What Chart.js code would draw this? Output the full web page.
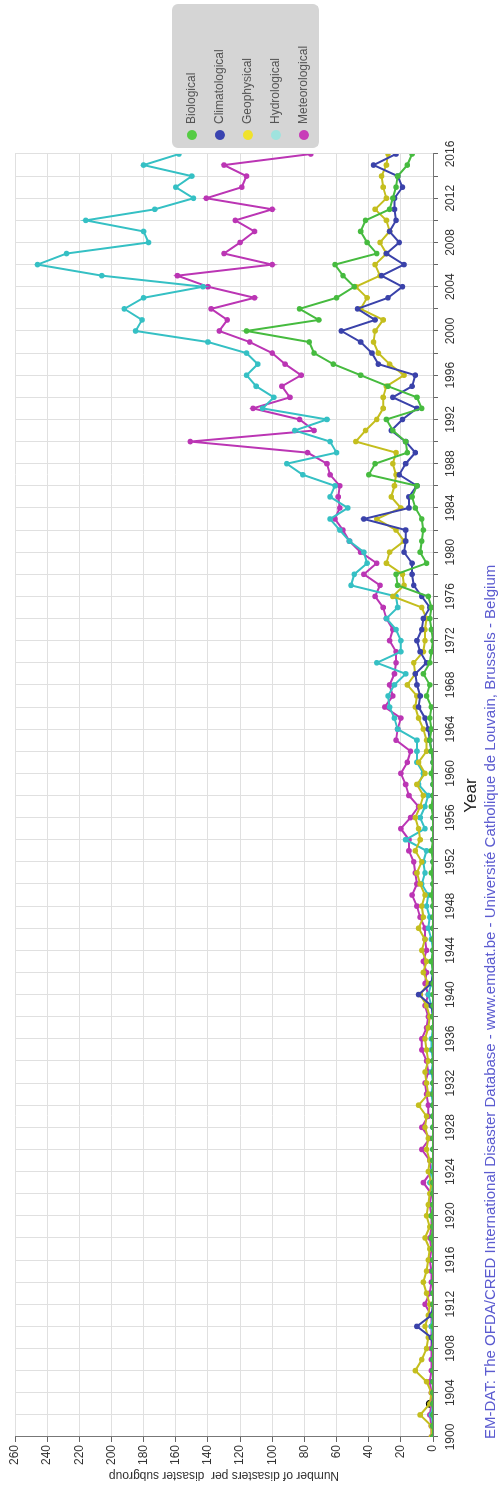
<!DOCTYPE html>
<html>
<head>
<meta charset="utf-8">
<script src="https://cdn.jsdelivr.net/npm/chart.js@4.4.1/dist/chart.umd.min.js"></script>
<style>
  html, body { margin: 0; padding: 0; background: #fff; overflow: hidden; }
  #page { width: 499px; height: 1490px; position: relative; overflow: hidden; }
  /* chart is drawn landscape, then turned a quarter left like the scan */
  #wrap { position: absolute; left: 0; top: 0; width: 1490px; height: 499px;
          transform-origin: 0 0; transform: translateY(1490px) rotate(-90deg); }
</style>
</head>
<body>
<div id="page"><div id="wrap"><canvas id="c" width="1490" height="499"></canvas></div></div>
<script>
const years = Array.from({ length: 117 }, (_, i) => 1900 + i)

const biological = [
  0,0,0,0,0,0,0,0,0,0,
  0,0,0,0,0,0,0,0,1,0,
  1,0,0,0,0,0,0,0,0,0,
  0,0,0,0,0,0,0,0,0,0,
  0,0,0,1,0,0,0,0,0,1,
  0,1,0,1,0,0,0,1,0,0,
  1,0,1,2,1,2,1,4,2,6,
  2,1,0,1,2,1,3,22,23,4,
  8,7,6,7,11,13,10,40,36,16,
  17,25,29,7,10,28,45,62,74,77,
  116,71,83,60,49,56,61,35,41,45,
  42,27,25,23,22,16,13
]
const climatological = [
  0,0,0,0,0,0,0,0,0,1,
  10,1,0,0,0,0,0,0,0,0,
  0,0,0,0,0,0,0,0,0,0,
  0,0,0,0,0,0,0,0,0,1,
  9,1,0,0,0,0,0,0,0,0,
  0,0,0,0,0,0,0,0,0,0,
  0,0,1,2,3,5,9,8,10,11,
  4,8,10,7,6,2,7,12,13,13,
  18,17,17,43,15,15,10,21,17,11,
  17,26,19,10,25,13,11,34,38,45,
  57,36,47,28,19,32,18,29,21,27,
  23,24,24,19,22,37,23
]
const geophysical = [
  1,1,8,2,1,4,11,7,4,3,
  5,3,2,4,6,4,3,2,5,2,
  4,3,2,1,3,2,4,3,5,4,
  9,3,4,5,3,4,5,3,2,4,
  8,3,6,4,7,5,9,6,7,5,
  8,10,7,11,8,9,11,8,6,10,
  5,9,4,4,6,9,11,10,16,11,
  12,6,5,5,4,7,25,18,19,29,
  27,18,23,35,20,26,24,23,25,23,
  48,42,35,31,31,29,18,27,34,37,
  36,31,45,41,48,33,36,29,33,27,
  29,36,29,31,32,29,28
]
const hydrological = [
  0,0,1,0,0,0,0,0,0,0,
  1,0,0,0,0,0,0,0,0,0,
  0,0,0,2,1,0,0,0,0,0,
  0,1,0,1,0,1,1,0,0,1,
  3,1,0,1,0,1,3,2,4,3,
  7,5,6,4,17,5,8,5,3,9,
  6,10,10,10,22,24,27,28,24,17,
  35,20,20,23,29,22,23,51,49,41,
  43,52,58,64,53,64,61,81,91,60,
  64,86,66,106,99,110,116,109,116,140,
  185,181,192,180,143,206,246,228,177,180,
  216,173,149,160,150,180,158
]
const meteorological = [
  1,1,2,1,1,2,1,1,1,1,
  1,1,5,2,1,1,2,1,2,1,
  1,2,1,6,1,2,7,2,7,3,
  3,4,5,3,4,7,7,4,3,5,
  3,5,4,6,4,5,5,8,10,13,
  10,11,12,15,15,20,14,9,15,17,
  20,16,14,23,22,20,30,25,27,24,
  23,23,27,25,29,31,36,33,43,35,
  45,52,56,61,58,59,58,64,66,78,
  151,74,83,112,89,94,82,92,100,114,
  133,128,138,111,140,159,100,130,120,111,
  123,100,141,119,116,130,76
]
// lone black marker near the origin
const otherYears = [1903]
const otherValues = [2]

const seriesNames = ['Biological', 'Climatological', 'Geophysical', 'Hydrological', 'Meteorological']
const seriesColors = ['#46bb3f', '#3a42aa', '#c4be1e', '#35c0c4', '#bb35b4']
const legendColors = ['#55cc44', '#3a44b0', '#f0e22c', '#9fe3de', '#c83cb8']
const credit = 'EM-DAT: The OFDA/CRED International Disaster Database - www.emdat.be - Université Catholique de Louvain, Brussels - Belgium'

const FONT = 'Liberation Sans, Arial, sans-serif'

function toPoints(values) {
  return values.map((v, i) => ({ x: years[i], y: v }))
}

const allSeries = [biological, climatological, geophysical, hydrological, meteorological]
const datasets = allSeries.map((vals, i) => ({
  label: seriesNames[i],
  data: toPoints(vals),
  borderColor: seriesColors[i],
  backgroundColor: seriesColors[i],
  borderWidth: 2,
  pointRadius: 2.8,
  pointBorderWidth: 0,
  tension: 0
}))
datasets.push({
  label: 'other',
  data: otherYears.map((y, i) => ({ x: y, y: otherValues[i] })),
  showLine: false,
  pointRadius: 3.5,
  backgroundColor: '#000',
  borderColor: '#000'
})

const extras = {
  id: 'extras',
  afterDraw(chart) {
    const ctx = chart.ctx
    ctx.save()
    // legend box on the right of the plot
    ctx.fillStyle = '#d5d5d5'
    ctx.beginPath()
    ctx.roundRect(1342, 172, 144, 147, 6)
    ctx.fill()
    ctx.font = '12px ' + FONT
    ctx.textBaseline = 'middle'
    seriesNames.forEach((n, i) => {
      const y = 192 + i * 28
      ctx.fillStyle = legendColors[i]
      ctx.beginPath()
      ctx.arc(1355, y, 5, 0, Math.PI * 2)
      ctx.fill()
      ctx.fillStyle = '#555'
      ctx.fillText(n, 1366, y)
    })
    // source line under the axis title
    ctx.fillStyle = '#5b5bd0'
    ctx.font = '15px ' + FONT
    ctx.textBaseline = 'middle'
    ctx.fillText(credit, 51, 491)
    ctx.restore()
  }
}

new Chart(document.getElementById('c'), {
  type: 'line',
  data: { datasets },
  options: {
    responsive: false,
    animation: false,
    devicePixelRatio: 1,
    layout: { padding: { top: 15, right: 154, left: 0, bottom: 0 } },
    plugins: { legend: { display: false }, tooltip: { enabled: false } },
    scales: {
      x: {
        type: 'linear',
        min: 1900,
        max: 2016,
        afterFit: (s) => { s.height = 66 },
        grid: { color: '#e0e0e0', tickLength: 5, tickColor: '#666' },
        border: { color: '#777' },
        ticks: {
          stepSize: 2,
          autoSkip: false,
          maxRotation: 0,
          padding: 5,
          color: '#333',
          font: { family: FONT, size: 12 },
          callback: (v) => (v % 4 === 0 ? String(v) : '')
        },
        title: {
          display: true,
          text: 'Year',
          color: '#222',
          font: { family: FONT, size: 17 },
          padding: { top: 0, bottom: 17 }
        }
      },
      y: {
        min: 0,
        max: 260,
        afterFit: (s) => { s.width = 53 },
        grid: { color: '#e0e0e0', tickLength: 5, tickColor: '#666' },
        border: { color: '#777' },
        ticks: {
          stepSize: 20,
          padding: 3,
          color: '#333',
          font: { family: FONT, size: 12 }
        },
        title: {
          display: true,
          text: 'Number of disasters per  disaster subgroup',
          color: '#333',
          font: { family: FONT, size: 12 },
          padding: { top: 7, bottom: 0 }
        }
      }
    }
  },
  plugins: [extras]
})
</script>
</body>
</html>
